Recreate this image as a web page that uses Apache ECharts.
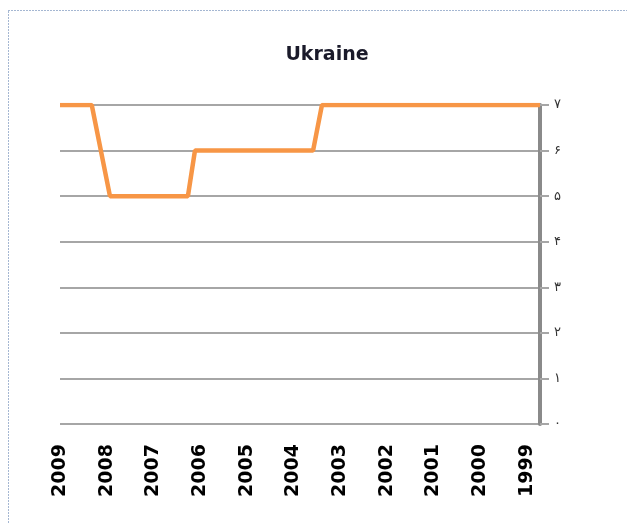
<!DOCTYPE html>
<html>
<head>
<meta charset="utf-8">
<script src="https://cdn.jsdelivr.net/npm/echarts@6/dist/echarts.min.js"></script>
<style>
  html, body { margin: 0; padding: 0; background: #fff; }
  #chart { width: 627px; height: 524px; }
</style>
</head>
<body>
<div id="chart"></div>
<script>
const title = 'Ukraine'
const yearLabels = [2009, 2008, 2007, 2006, 2005, 2004, 2003, 2002, 2001, 2000, 1999]
const yLabels = ['۰', '۱', '۲', '۳', '۴', '۵', '۶', '۷']
// x positions (in years) where the line bends
const pointYears = [2009, 2008.32, 2007.93, 2006.26, 2006.11, 2003.58, 2003.39, 1998.72]
const pointValues = [7, 7, 5, 5, 6, 6, 7, 7]

const chart = echarts.init(document.getElementById('chart'))
chart.setOption({
  animation: false,
  title: {
    text: title,
    left: 322,
    top: 41,
    textAlign: 'center',
    textStyle: { fontFamily: 'DejaVu Sans', fontWeight: 'bold', fontSize: 19, color: '#1a1a2a' },
  },
  graphic: [
    {
      type: 'rect',
      shape: { x: 8.5, y: 10.5, width: 700, height: 600 },
      style: { fill: 'none', stroke: '#4a6fa5', lineWidth: 1, lineDash: [1, 2] },
      silent: true,
    },
  ],
  grid: { left: 60, right: 87, top: 105, bottom: 100 },
  xAxis: {
    type: 'value',
    inverse: true,
    min: 1998.72,
    max: 2009,
    axisLine: { show: false },
    axisTick: { show: false },
    splitLine: { show: false },
    axisLabel: {
      customValues: yearLabels,
      formatter: (v) => String(v),
      rotate: 90,
      margin: 20,
      fontFamily: 'DejaVu Sans',
      fontWeight: 'bold',
      fontSize: 19,
      color: '#000',
    },
  },
  yAxis: {
    type: 'value',
    position: 'right',
    min: 0,
    max: 7,
    interval: 1,
    axisLine: { show: true, lineStyle: { color: '#8a8a8a', width: 4 } },
    axisTick: { show: true, length: 9, lineStyle: { color: '#a6a6a6', width: 2 } },
    splitLine: { lineStyle: { color: '#a6a6a6', width: 2 } },
    axisLabel: {
      formatter: (v) => yLabels[v],
      margin: 14,
      fontFamily: 'DejaVu Sans',
      fontSize: 13,
      color: '#333',
    },
  },
  series: [
    {
      type: 'line',
      data: pointYears.map((y, i) => [y, pointValues[i]]),
      symbol: 'none',
      lineStyle: { color: '#f79646', width: 4.5 },
      z: 3,
    },
  ],
})
</script>
</body>
</html>
